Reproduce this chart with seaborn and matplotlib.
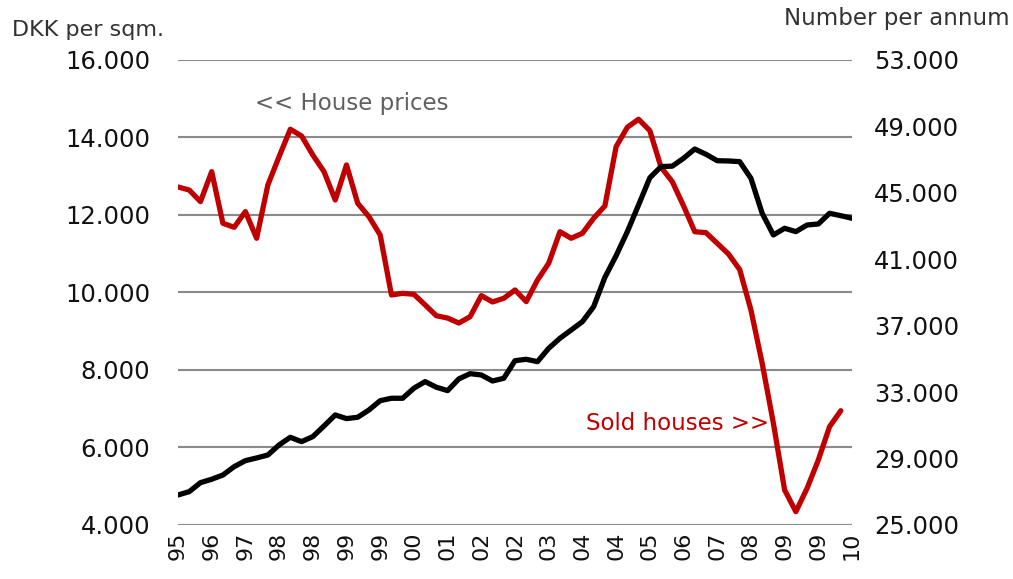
import numpy as np
import pandas as pd
import matplotlib
matplotlib.use("Agg")
import matplotlib.pyplot as plt
import seaborn as sns

# quarterly points, 1995 -> 2010
house_prices = [4774, 4860, 5092, 5180, 5290, 5505, 5660, 5730, 5806, 6065,
                6263, 6150, 6280, 6555, 6840, 6745, 6780, 6968, 7208, 7270,
                7270, 7530, 7700, 7555, 7467, 7770, 7905, 7871, 7716, 7786,
                8240, 8276, 8215, 8560, 8818, 9032, 9247, 9634, 10390, 10950,
                11570, 12260, 12960, 13250, 13260, 13463, 13703, 13566, 13401, 13394,
                13376, 12947, 12044, 11484, 11657, 11570, 11742, 11768, 12044, 11982,
                11915]
sold_houses = [45354, 45170, 44470, 46275, 43165, 42925, 43870, 42265, 45475, 47180,
               48830, 48425, 47280, 46275, 44570, 46680, 44370, 43565, 42460, 38850,
               38950, 38890, 38250, 37600, 37460, 37160, 37540, 38810, 38430, 38650,
               39150, 38450, 39750, 40760, 42660, 42265, 42565, 43470, 44210, 47780,
               48950, 49430, 48745, 46540, 45675, 44220, 42660, 42600, 41960, 41320,
               40380, 37950, 34740, 31125, 27110, 25800, 27210, 28915, 30920, 31880]
tick_labels = ["95", "96", "97", "98", "98", "99", "99", "00", "01", "02", "02",
               "03", "04", "04", "05", "06", "07", "08", "09", "09", "10"]
left_ticks = [4000, 6000, 8000, 10000, 12000, 14000, 16000]
right_ticks = [25000, 29000, 33000, 37000, 41000, 45000, 49000, 53000]

df1 = pd.DataFrame({"q": np.arange(len(house_prices)), "price": house_prices})
df2 = pd.DataFrame({"q": np.arange(len(sold_houses)), "sold": sold_houses})

sns.set_theme(style="white")
plt.rcParams['font.family'] = ['DejaVu Sans']

fig = plt.figure(figsize=(10.13, 5.79), dpi=100)
ax = fig.add_axes([0.1757, 0.0933, 0.6654, 0.8031])
ax2 = ax.twinx()

sns.lineplot(data=df1, x="q", y="price", ax=ax, color="black", linewidth=3.8)
sns.lineplot(data=df2, x="q", y="sold", ax=ax2, color="#c00000", linewidth=3.8)

ax.set_zorder(ax2.get_zorder() + 1)
ax.patch.set_visible(False)

ax.set_xlim(0, 60)
ax.set_ylim(4000, 16000)
ax2.set_ylim(25000, 53000)

ax.set_yticks(left_ticks)
ax.set_yticklabels([f"{v:,}".replace(",", ".") for v in left_ticks], fontsize=17.5, color="#111111")
ax2.set_yticks(right_ticks)
ax2.set_yticklabels([f"{v:,}".replace(",", ".") for v in right_ticks], fontsize=17.5, color="#111111")
ax.set_xticks(np.arange(0, 61, 3))
ax.set_xticklabels(tick_labels, rotation=90, fontsize=16, color="#111111")

ax.tick_params(axis="y", length=0, pad=20)
ax2.tick_params(axis="y", length=0, pad=16)
ax.tick_params(axis="x", length=0, pad=5)

ax2.grid(False)
for v in left_ticks:
    ax2.plot([0, 60], [25000 + (v - 4000) * 28000 / 12000] * 2, color="#8a8a8a", lw=1.5, zorder=0)

for a in (ax, ax2):
    for s in a.spines.values():
        s.set_visible(False)
ax.set_xlabel("")
ax.set_ylabel("")
ax2.set_ylabel("")

fig.text(0.012, 0.948, "DKK per sqm.", fontsize=16, color="#333333", va="center", ha="left")
fig.text(0.997, 0.968, "Number per annum", fontsize=16.5, color="#333333", va="center", ha="right")
ax.text(0.115, 0.907, "<< House prices", transform=ax.transAxes, fontsize=16.5, color="#606060",
        va="center", ha="left")
ax.text(0.606, 0.219, "Sold houses >>", transform=ax.transAxes, fontsize=16.5, color="#c00000",
        va="center", ha="left")

fig.savefig("out.png", dpi=100)
